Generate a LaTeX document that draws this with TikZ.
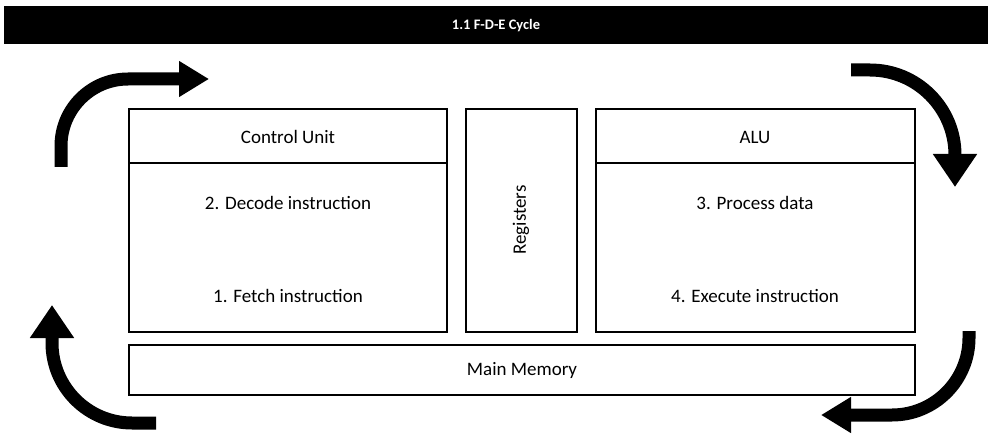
\documentclass[tikz,border=0pt]{standalone}
\usepackage{fontspec}
\setmainfont{Carlito}
\usetikzlibrary{arrows.meta}
\begin{document}
\begin{tikzpicture}[x=1pt,y=-1pt,
  box/.style={draw=black,line width=2.6pt,fill=white},
  lbl/.style={font=\fontsize{19}{22}\selectfont,inner sep=0pt},
  cyc/.style={line width=13pt,-{Triangle[length=33pt,width=42pt]}},
  cycs/.style={line width=13pt,-{Triangle[length=30pt,width=34pt]}}]
\useasboundingbox (0,0) rectangle (988,441);
\fill[white] (0,0) rectangle (988,441);
% title bar
\fill[black] (4,6) rectangle (988,44);
\node[text=white,font=\bfseries\fontsize{14.5}{17}\selectfont] (title) at (496,26) {1.1 F-D-E Cycle};
% boxes
\draw[box] (129,109) rectangle (447,332);
\draw[line width=2.6pt] (129,163) -- (447,163);
\draw[box] (466,109) rectangle (577,332);
\draw[box] (596,109) rectangle (915,332);
\draw[line width=2.6pt] (596,163) -- (915,163);
\draw[box] (129,345) rectangle (915,395);
% labels
\node[lbl] (cu) at (288,137) {Control Unit};
\node[lbl] (dec) at (288,203) {2. Decode instruction};
\node[lbl] (fet) at (288,296) {1. Fetch instruction};
\node[lbl,rotate=90] (reg) at (521,220) {Registers};
\node[lbl] (alu) at (755,137) {ALU};
\node[lbl] (proc) at (755,203) {3. Process data};
\node[lbl] (exe) at (755,296) {4. Execute instruction};
\node[lbl] (mm) at (522,370) {Main Memory};
% cycle arrows
\draw[cycs] (61,167) -- (61,146) arc[start angle=180,end angle=270,radius=67] -- (209,79);
\draw[cyc] (851,70) -- (870,70) arc[start angle=270,end angle=360,radius=85] -- (955,187);
\draw[cycs] (969,331) -- (969,338) arc[start angle=0,end angle=90,radius=77] -- (821,415);
\draw[cyc] (156,423) -- (132,423) arc[start angle=90,end angle=180,radius=80] -- (52,305);
\end{tikzpicture}
\end{document}
